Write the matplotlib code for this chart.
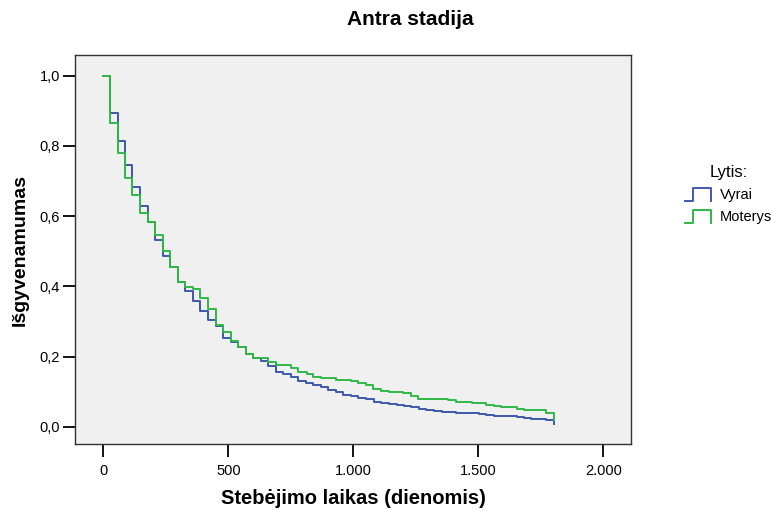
import matplotlib
matplotlib.use('Agg')
import matplotlib.pyplot as plt
from matplotlib.lines import Line2D
from matplotlib.legend_handler import HandlerLine2D

plt.rcParams['font.family'] = ['Liberation Sans', 'DejaVu Sans']

# Kaplan-Meier steps (days, survival)
vyrai_t = [0, 27, 57, 87, 116, 147, 177, 208, 238, 268, 297, 328, 358, 388, 419,
           449, 479, 510, 539, 570, 600, 629, 660, 690, 720, 750, 780, 810, 840,
           870, 900, 930, 960, 991, 1020, 1051, 1081, 1110, 1144, 1174, 1204,
           1231, 1261, 1292, 1321, 1355, 1411, 1473, 1502, 1532, 1561, 1621,
           1653, 1683, 1712, 1742, 1772, 1803]
vyrai_s = [1.0, 0.894, 0.814, 0.746, 0.683, 0.629, 0.583, 0.532, 0.487, 0.455,
           0.412, 0.386, 0.357, 0.330, 0.305, 0.287, 0.252, 0.240, 0.226, 0.207,
           0.197, 0.186, 0.172, 0.157, 0.149, 0.141, 0.131, 0.126, 0.119, 0.114,
           0.105, 0.098, 0.091, 0.089, 0.083, 0.078, 0.071, 0.067, 0.064, 0.061,
           0.058, 0.056, 0.052, 0.048, 0.046, 0.043, 0.040, 0.038, 0.036, 0.034,
           0.032, 0.030, 0.028, 0.025, 0.023, 0.022, 0.020, 0.009]

moterys_t = [0, 27, 57, 87, 116, 147, 177, 208, 238, 268, 297, 328, 358, 388,
             419, 449, 479, 510, 539, 570, 600, 660, 690, 750, 780, 813, 840,
             870, 930, 990, 1020, 1050, 1080, 1110, 1143, 1200, 1230, 1260,
             1380, 1410, 1473, 1532, 1561, 1591, 1653, 1683, 1772, 1803]
moterys_s = [1.0, 0.864, 0.780, 0.709, 0.660, 0.609, 0.583, 0.546, 0.500, 0.455,
             0.412, 0.397, 0.393, 0.367, 0.336, 0.289, 0.270, 0.245, 0.226, 0.207,
             0.197, 0.184, 0.176, 0.167, 0.155, 0.149, 0.143, 0.138, 0.134, 0.129,
             0.126, 0.119, 0.107, 0.102, 0.099, 0.095, 0.087, 0.079, 0.075, 0.071,
             0.067, 0.062, 0.059, 0.055, 0.051, 0.048, 0.040, 0.018]

xticks = [0, 500, 1000, 1500, 2000]
xtick_labels = ['0', '500', '1.000', '1.500', '2.000']
yticks = [0.0, 0.2, 0.4, 0.6, 0.8, 1.0]
ytick_labels = ['0,0', '0,2', '0,4', '0,6', '0,8', '1,0']

blue = '#3E58AC'
green = '#2EB848'


class StepHandler(HandlerLine2D):
    # legend key drawn as a little step  _|"|
    def create_artists(self, legend, orig_handle, xdescent, ydescent,
                       width, height, fontsize, trans):
        x0 = -xdescent
        y0 = -ydescent - 1.5
        h = height + 2
        xs = [x0, x0 + width * 0.31, x0 + width * 0.31, x0 + width, x0 + width]
        ys = [y0, y0, y0 + h, y0 + h, y0]
        ln = Line2D(xs, ys, color=orig_handle.get_color(),
                    linewidth=orig_handle.get_linewidth())
        ln.set_transform(trans)
        return [ln]


fig = plt.figure(figsize=(7.71, 5.11), dpi=100)
ax = fig.add_axes([0.0977, 0.1305, 0.7207, 0.7613])
ax.set_facecolor('#F0F0F0')

l1, = ax.step(vyrai_t, vyrai_s, where='post', color=blue, linewidth=1.4)
l2, = ax.step(moterys_t, moterys_s, where='post', color=green, linewidth=1.4)

ax.set_xlim(-112, 2111)
ax.set_ylim(-0.05, 1.058)
ax.set_xticks(xticks)
ax.set_xticklabels(xtick_labels)
ax.set_yticks(yticks)
ax.set_yticklabels(ytick_labels)
ax.tick_params(direction='out', length=9, width=1.3, labelsize=10.5)
ax.tick_params(axis='x', pad=5)
ax.tick_params(axis='y', pad=2)

for sp in ax.spines.values():
    sp.set_color('#333333')
    sp.set_linewidth(1.0)

ax.set_xlabel('Stebėjimo laikas (dienomis)', fontsize=14.5, fontweight='bold',
              labelpad=8)
ax.set_ylabel('Išgyvenamumas', fontsize=14, fontweight='bold', labelpad=8)
fig.text(0.532, 0.962, 'Antra stadija', fontsize=15, fontweight='bold',
         ha='center', va='center')

leg = fig.legend([l1, l2], ['Vyrai', 'Moterys'], title='Lytis:',
                 loc='center left', bbox_to_anchor=(0.872, 0.619),
                 frameon=False, fontsize=10.5, title_fontsize=12,
                 handler_map={Line2D: StepHandler()},
                 handlelength=1.75, handletextpad=0.6, labelspacing=0.55)

fig.savefig('out.png', dpi=100)
